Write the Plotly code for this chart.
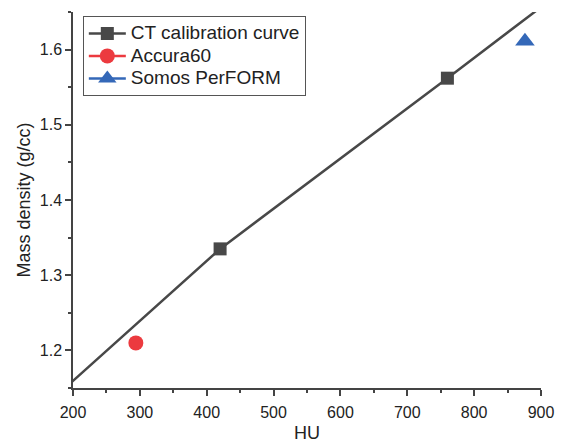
import plotly.graph_objects as go

# Data
calib_hu = [0, 420, 760, 1000]
calib_density = [1.0, 1.335, 1.562, 1.724]
accura_hu = [294]
accura_density = [1.21]
somos_hu = [876]
somos_density = [1.611]

x_ticks = [200, 300, 400, 500, 600, 700, 800, 900]
y_ticks = [1.2, 1.3, 1.4, 1.5, 1.6]

FONT = "Arial, Liberation Sans, sans-serif"
GRAY = "#484848"
RED = "#ec3a3f"
BLUE = "#3468b8"


def big(t):
    return '<span style="font-size:19px">' + t + '</span>'


fig = go.Figure()
fig.add_trace(go.Scatter(
    x=calib_hu, y=calib_density, mode="lines+markers",
    name=big("CT calibration curve"),
    line=dict(color=GRAY, width=2.5),
    marker=dict(symbol="square", size=13, color=GRAY),
))
fig.add_trace(go.Scatter(
    x=accura_hu, y=accura_density, mode="lines+markers",
    name=big("Accura60"),
    line=dict(color=RED, width=2.5),
    marker=dict(symbol="circle", size=15, color=RED),
))
fig.add_trace(go.Scatter(
    x=somos_hu, y=somos_density, mode="lines+markers",
    name=big("Somos PerFORM"),
    line=dict(color=BLUE, width=2.5),
    marker=dict(symbol="triangle-up", size=17, color=BLUE),
))

axis_common = dict(
    showline=True, linecolor="#444444", linewidth=1.5,
    ticks="outside", ticklen=6, tickwidth=1.5, tickcolor="#444444",
    showgrid=False, zeroline=False, mirror=False, automargin=False,
    tickfont=dict(family=FONT, size=16, color="#222222"),
)

fig.update_layout(
    width=562, height=443,
    margin=dict(l=73, r=21, t=12, b=55),
    plot_bgcolor="white", paper_bgcolor="white",
    font=dict(family=FONT, color="#222222"),
    xaxis=dict(
        range=[200, 900], tickvals=x_ticks,
        minor=dict(dtick=50, ticks="outside", ticklen=3, tickwidth=1.5, tickcolor="#444444"),
        title=dict(text="HU", font=dict(family=FONT, size=18), standoff=8),
        ticklabelstandoff=3,
        **axis_common,
    ),
    yaxis=dict(
        range=[1.15, 1.65], tickvals=y_ticks, tickformat=".1f",
        minor=dict(dtick=0.05, tick0=1.15, ticks="outside", ticklen=3, tickwidth=1.5, tickcolor="#444444"),
        title=dict(text="Mass density (g/cc)", font=dict(family=FONT, size=18), standoff=4),
        **axis_common,
    ),
    legend=dict(
        x=0.021, y=0.989, xanchor="left", yanchor="top",
        bordercolor="#555555", borderwidth=1, bgcolor="white",
        font=dict(family=FONT, size=15, color="#222222"),
        itemwidth=37, tracegroupgap=0,
    ),
    showlegend=True,
)

fig.write_html("out.html", config={"displayModeBar": False},
               post_script="document.body.style.margin='0';")
